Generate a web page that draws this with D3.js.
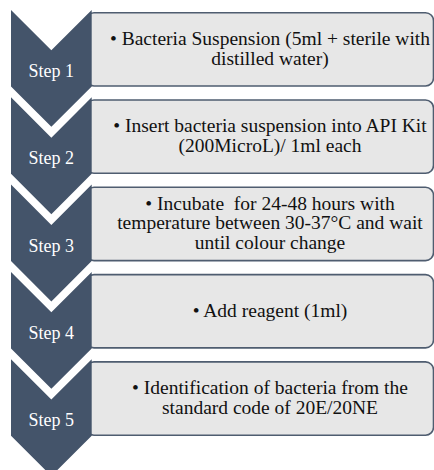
<!DOCTYPE html>
<html>
<head>
<meta charset="utf-8">
<script src="https://cdn.jsdelivr.net/npm/d3@7/dist/d3.min.js"></script>
<style>
  html, body { margin: 0; padding: 0; background: #fff; overflow: hidden; }
  svg { display: block; }
  text { font-family: 'Liberation Serif', 'Times New Roman', Times, 'DejaVu Serif', serif; }
</style>
</head>
<body>
<svg id="flow"></svg>
<script>
const steps = ['Step 1', 'Step 2', 'Step 3', 'Step 4', 'Step 5'];

const details = [
  ['\u2022 Bacteria Suspension (5ml + sterile with', 'distilled water)'],
  ['\u2022 Insert bacteria suspension into API Kit', '(200MicroL)/ 1ml each'],
  ['\u2022 Incubate  for 24-48 hours with', 'temperature between 30-37\u00b0C and wait', 'until colour change'],
  ['\u2022 Add reagent (1ml)'],
  ['\u2022 Identification of bacteria from the', 'standard code of 20E/20NE']
];

const width = 434;
const height = 470;

const chevron = { left: 11, right: 91.7, side: 76.5 };
const box = { left: 86, right: 433.5, top: 2.7, height: 73.3, textX: 270 };
const lineHeight = 19.5;

const svg = d3.select('svg#flow')
  .attr('width', width)
  .attr('height', height);

// one band per step, top of each chevron
const yScale = d3.scaleBand()
  .domain(steps)
  .range([10, 10 + 87.3 * steps.length])
  .paddingInner(0)
  .paddingOuter(0);

const rows = svg.selectAll('g.row')
  .data(steps).enter().append('g')
  .attr('class', 'row')
  .attr('transform', d => 'translate(0,' + yScale(d) + ')');

// boxes first, chevrons overlap their left edge
rows.append('rect')
  .attr('x', box.left)
  .attr('y', box.top)
  .attr('width', box.right - box.left)
  .attr('height', box.height)
  .attr('rx', 8)
  .attr('ry', 8)
  .attr('fill', '#e7e7e7')
  .attr('stroke', '#4f5d70')
  .attr('stroke-width', 1.6);

const chevronPath = () => {
  const w = chevron.right - chevron.left;
  const d = w / 2;
  const mid = chevron.left + d;
  const p = d3.path();
  p.moveTo(chevron.left, 0);
  p.lineTo(mid, d);
  p.lineTo(chevron.right, 0);
  p.lineTo(chevron.right, chevron.side);
  p.lineTo(mid, chevron.side + d);
  p.lineTo(chevron.left, chevron.side);
  p.closePath();
  return p.toString();
};

rows.append('path')
  .attr('d', chevronPath())
  .attr('fill', '#44546a');

rows.append('text')
  .attr('x', (chevron.left + chevron.right) / 2)
  .attr('y', 67)
  .attr('text-anchor', 'middle')
  .attr('fill', '#ffffff')
  .attr('font-size', 18)
  .text(d => d);

rows.each(function(d, i) {
  const lines = details[i];
  const center = box.top + box.height / 2;
  const t = d3.select(this).append('text')
    .attr('text-anchor', 'middle')
    .attr('fill', '#111')
    .attr('xml:space', 'preserve')
    .attr('font-size', 19.5);
  lines.forEach((line, k) => {
    t.append('tspan')
      .attr('x', box.textX)
      .attr('y', center + (k - (lines.length - 1) / 2) * lineHeight + 5.5)
      .text(line);
  });
});
</script>
</body>
</html>
